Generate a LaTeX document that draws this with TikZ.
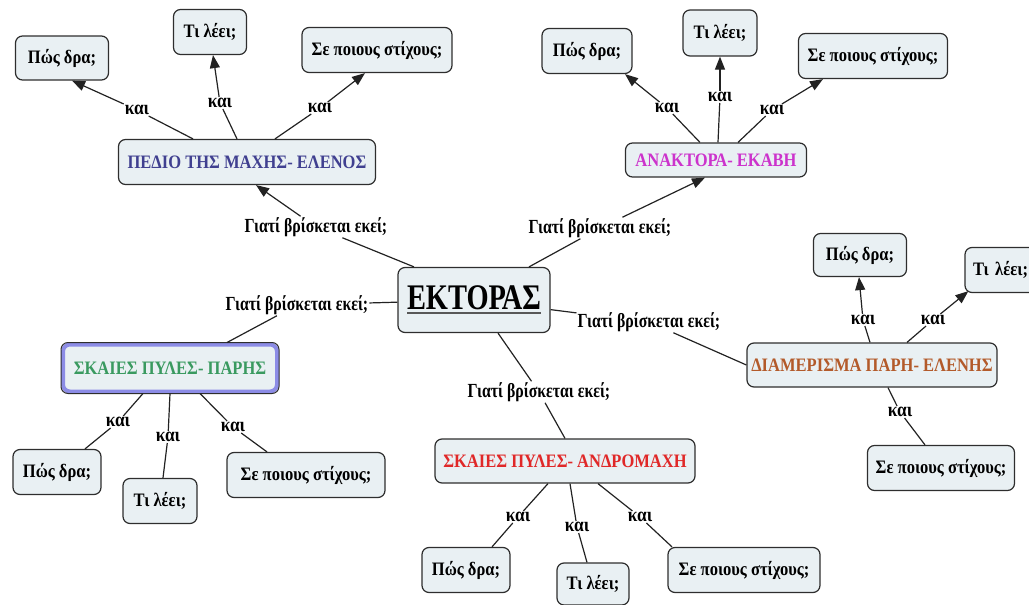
\documentclass[tikz,border=0pt]{standalone}
\usepackage{fontspec}
\setmainfont{Liberation Serif}[FakeStretch=0.87]
\newfontfamily\narrowfont{Liberation Serif}[FakeStretch=0.79]
\usetikzlibrary{arrows.meta}
\definecolor{boxfill}{HTML}{E9F0F3}
\definecolor{boxline}{HTML}{2E2E2E}
\definecolor{linecol}{HTML}{222222}
\definecolor{pedcol}{HTML}{404090}
\definecolor{anakcol}{HTML}{CC33CC}
\definecolor{diamcol}{HTML}{B35A2A}
\definecolor{pariscol}{HTML}{3A9A60}
\definecolor{androcol}{HTML}{E02828}
\definecolor{hilite}{HTML}{8C8CE6}
\newcommand\thickul[1]{\leavevmode\setbox0\hbox{#1}\rlap{\color{boxline!80}\rule[-5pt]{\wd0}{2.2pt}}\box0}
\tikzset{
  box/.style={draw=boxline, fill=boxfill, rounded corners=7pt, line width=1.2pt,
    font=\bfseries\fontsize{19}{22}\selectfont, inner sep=0pt},
  kai/.style={font=\bfseries\fontsize{20}{22}\selectfont, inner sep=1pt},
  why/.style={font=\narrowfont\bfseries\fontsize{20}{23}\selectfont, inner sep=1pt},
  conn/.style={draw=linecol, line width=1.2pt},
  arr/.style={conn, -{Triangle[length=13pt,width=10pt]}},
}
\begin{document}
\begin{tikzpicture}[x=1pt,y=-1pt]
\useasboundingbox (0,0) rectangle (1029,605);
% central
\node[box, minimum width=152pt, minimum height=65pt, font=\narrowfont\bfseries\fontsize{36}{40}\selectfont] (ektoras) at (474,300) {\thickul{ΕΚΤΟΡΑΣ}};
% top-left
\node[box, minimum width=257pt, minimum height=45pt, text=pedcol] (pedio) at (247,162) {ΠΕΔΙΟ ΤΗΣ ΜΑΧΗΣ- ΕΛΕΝΟΣ};
\node[box, minimum width=93pt, minimum height=44pt] (pd1) at (62,58) {Πώς δρα;};
\node[box, minimum width=73pt, minimum height=45pt] (pd2) at (210,32) {Τι λέει;};
\node[box, minimum width=150pt, minimum height=45pt] (pd3) at (377,50) {Σε ποιους στίχους;};
\node[kai] (k11) at (137,110) {και};
\node[kai] (k12) at (220,103) {και};
\node[kai] (k13) at (320,108) {και};
\draw[conn] ([xshift=-54pt]pedio.north) -- (k11);
\draw[arr] (k11) -- ([xshift=10pt]pd1.south);
\draw[conn] ([xshift=-10pt]pedio.north) -- (k12);
\draw[arr] (k12) -- ([xshift=3pt]pd2.south);
\draw[conn] ([xshift=28pt]pedio.north) -- (k13);
\draw[arr] (k13) -- ([xshift=-12pt]pd3.south);
% top-right
\node[box, minimum width=181pt, minimum height=34pt, text=anakcol] (anaktora) at (716,160) {ΑΝΑΚΤΟΡΑ- ΕΚΑΒΗ};
\node[box, minimum width=90pt, minimum height=45pt] (ak1) at (587,51) {Πώς δρα;};
\node[box, minimum width=74pt, minimum height=46pt] (ak2) at (720,33) {Τι λέει;};
\node[box, minimum width=149pt, minimum height=45pt] (ak3) at (873,56) {Σε ποιους στίχους;};
\node[kai] (k21) at (667,108) {και};
\node[kai] (k22) at (720,97) {και};
\node[kai] (k23) at (772,110) {και};
\draw[conn] ([xshift=-16pt]anaktora.north) -- (k21);
\draw[arr] (k21) -- ([xshift=38pt]ak1.south);
\draw[conn] ([xshift=2pt]anaktora.north) -- (k22);
\draw[arr] (k22) -- (ak2.south);
\draw[conn] ([xshift=22pt]anaktora.north) -- (k23);
\draw[arr] (k23) -- ([xshift=-50pt]ak3.south);
% right
\node[box, minimum width=250pt, minimum height=44pt, text=diamcol] (diam) at (872,365) {ΔΙΑΜΕΡΙΣΜΑ ΠΑΡΗ- ΕΛΕΝΗΣ};
\node[box, minimum width=93pt, minimum height=43pt] (dm1) at (860,255) {Πώς δρα;};
\node[box, minimum width=80pt, minimum height=45pt, text width=64pt, align=left] (dm2) at (1005,270) {Τι λέει;};
\node[box, minimum width=147pt, minimum height=45pt] (dm3) at (941,468) {Σε ποιους στίχους;};
\node[kai] (k31) at (863,320) {και};
\node[kai] (k32) at (933,320) {και};
\node[kai] (k33) at (900,412) {και};
\draw[conn] ([xshift=-2pt]diam.north) -- (k31);
\draw[arr] (k31) -- ([xshift=-1pt]dm1.south);
\draw[conn] ([xshift=35pt]diam.north) -- (k32);
\draw[arr] (k32) -- ([xshift=4pt,yshift=2pt]dm2.south west);
\draw[conn] ([xshift=16pt]diam.south) -- (k33);
\draw[conn] (k33) -- ([xshift=-16pt]dm3.north);
% left
\node[box, minimum width=214pt, minimum height=47pt, draw=hilite, line width=4pt, text=pariscol] (paris) at (170,368) {ΣΚΑΙΕΣ ΠΥΛΕΣ- ΠΑΡΗΣ};
\draw[boxline, line width=1pt, rounded corners=7pt] (paris.north west) rectangle (paris.south east);
\node[box, minimum width=88pt, minimum height=45pt] (pr1) at (57,472) {Πώς δρα;};
\node[box, minimum width=74pt, minimum height=45pt] (pr2) at (160,501) {Τι λέει;};
\node[box, minimum width=158pt, minimum height=45pt] (pr3) at (306,475) {Σε ποιους στίχους;};
\node[kai] (k41) at (118,422) {και};
\node[kai] (k42) at (168,437) {και};
\node[kai] (k43) at (233,427) {και};
\draw[conn] ([xshift=-27pt]paris.south) -- (k41);
\draw[conn] (k41) -- ([xshift=28pt]pr1.north);
\draw[conn] (paris.south) -- (k42);
\draw[conn] (k42) -- ([xshift=3pt]pr2.north);
\draw[conn] ([xshift=30pt]paris.south) -- (k43);
\draw[conn] (k43) -- ([xshift=-39pt]pr3.north);
% bottom
\node[box, minimum width=260pt, minimum height=44pt, text=androcol] (andro) at (565,461) {ΣΚΑΙΕΣ ΠΥΛΕΣ- ΑΝΔΡΟΜΑΧΗ};
\node[box, minimum width=88pt, minimum height=45pt] (an1) at (466,570) {Πώς δρα;};
\node[box, minimum width=72pt, minimum height=42pt] (an2) at (593,584) {Τι λέει;};
\node[box, minimum width=152pt, minimum height=45pt] (an3) at (744,570) {Σε ποιους στίχους;};
\node[kai] (k51) at (518,517) {και};
\node[kai] (k52) at (577,527) {και};
\node[kai] (k53) at (640,517) {και};
\draw[conn] ([xshift=-17pt]andro.south) -- (k51);
\draw[conn] (k51) -- ([xshift=26pt]an1.north);
\draw[conn] ([xshift=5pt]andro.south) -- (k52);
\draw[conn] (k52) -- ([xshift=-6pt]an2.north);
\draw[conn] ([xshift=33pt]andro.south) -- (k53);
\draw[conn] (k53) -- ([xshift=-72pt]an3.north);
% central connectors
\node[why] (g1) at (316,227) {Γιατί βρίσκεται εκεί;};
\node[why] (g2) at (600,228) {Γιατί βρίσκεται εκεί;};
\node[why] (g3) at (297,305) {Γιατί βρίσκεται εκεί;};
\node[why] (g4) at (649,322) {Γιατί βρίσκεται εκεί;};
\node[why] (g5) at (539,392) {Γιατί βρίσκεται εκεί;};
\draw[conn] ([xshift=-60pt]ektoras.north) -- (g1);
\draw[arr] (g1) -- ([xshift=9pt]pedio.south);
\draw[conn] ([xshift=55pt]ektoras.north) -- (g2);
\draw[arr] (g2) -- ([xshift=-11pt]anaktora.south);
\draw[conn] (g3) -- (ektoras);
\draw[conn] (g3) -- ([xshift=57pt]paris.north);
\draw[conn] (ektoras) -- (g4);
\draw[conn] (g4) -- (diam.west);
\draw[conn] ([xshift=24pt]ektoras.south) -- (g5);
\draw[conn] (g5) -- (andro.north);
\end{tikzpicture}
\end{document}
